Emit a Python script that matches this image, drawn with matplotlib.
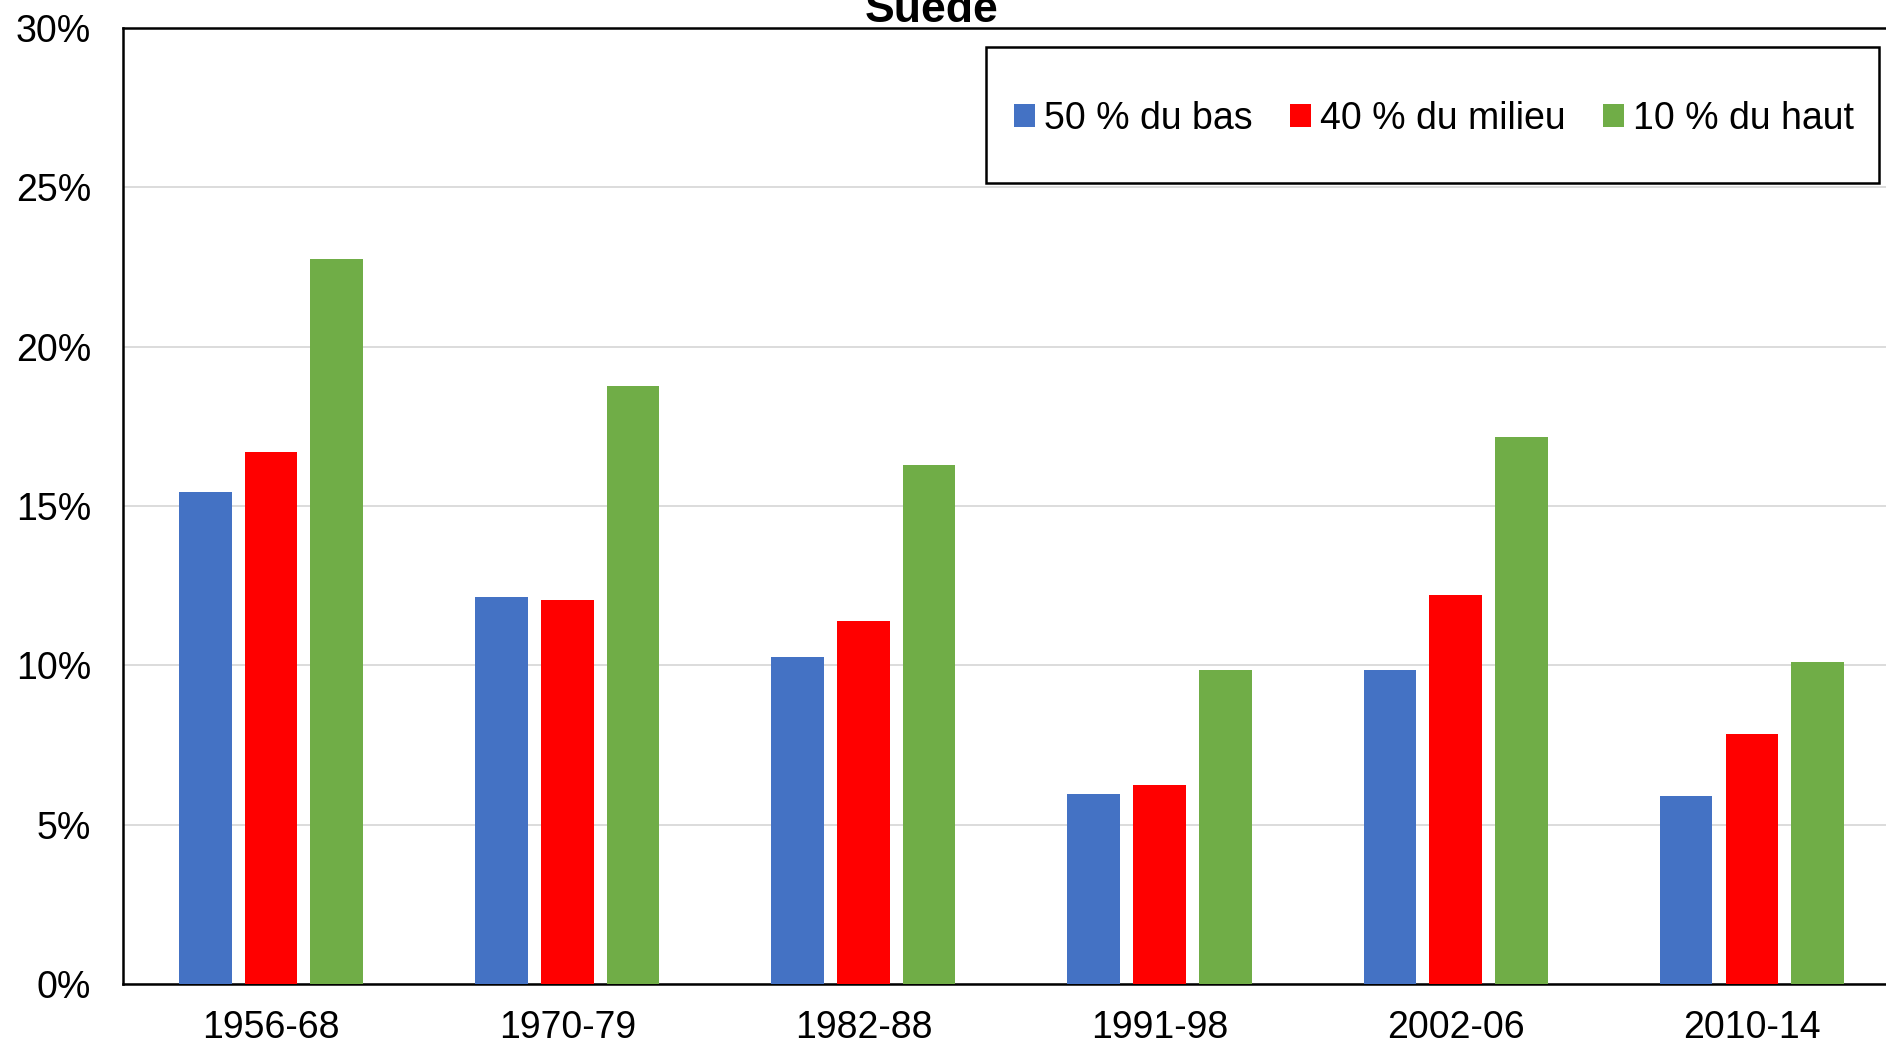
import numpy as np
import matplotlib
matplotlib.use("Agg")
import matplotlib.pyplot as plt
from matplotlib.patches import Rectangle

plt.rcParams['font.family'] = ['Liberation Sans', 'DejaVu Sans']

periodes = ['1956-68', '1970-79', '1982-88', '1991-98', '2002-06', '2010-14']
bas_50 = [15.45, 12.15, 10.25, 5.95, 9.85, 5.9]
milieu_40 = [16.7, 12.05, 11.4, 6.25, 12.2, 7.85]
haut_10 = [22.75, 18.75, 16.3, 9.85, 17.15, 10.1]

series = [('50 % du bas', bas_50, '#4472C4'),
          ('40 % du milieu', milieu_40, '#FF0000'),
          ('10 % du haut', haut_10, '#70AD47')]

fig = plt.figure(figsize=(18.86, 10.44), dpi=100)
ax = fig.add_axes([0.0652, 0.0575, 0.9422, 0.9157])

x = np.arange(len(periodes))
w = 0.178
step = 0.222
for i, (lab, vals, col) in enumerate(series):
    ax.bar(x + (i - 1) * step, np.array(vals) / 100, width=w, color=col,
           label=lab, zorder=3)

ax.set_xlim(-0.5, len(periodes) - 0.5)
ax.set_ylim(0, 0.30)
ax.set_yticks(np.arange(0, 0.301, 0.05))
ax.set_yticklabels(['%d%%' % round(v * 100) for v in np.arange(0, 0.301, 0.05)])
ax.set_xticks(x)
ax.set_xticklabels(periodes)
ax.tick_params(axis='both', length=0, labelsize=27)
ax.tick_params(axis='x', pad=19)
ax.tick_params(axis='y', pad=23)
ax.grid(axis='y', color='#D9D9D9', linewidth=1.3, zorder=0)
for s in ['left', 'bottom', 'top']:
    ax.spines[s].set_linewidth(1.8)
    ax.spines[s].set_color('black')
ax.spines['right'].set_visible(False)

fig.text(0.494, 1 - 22 / 1044, 'Suède', ha='center', va='baseline',
         fontsize=32, fontweight='bold')

leg = fig.legend(loc='center', bbox_to_anchor=(1434 / 1886, 1 - 119 / 1044),
                 ncol=3, frameon=False, fontsize=27, handlelength=0.55,
                 handleheight=0.55, handletextpad=0.25, columnspacing=1.0)
fig.patches.append(Rectangle((986 / 1886, 1 - 183 / 1044), 893 / 1886, 136 / 1044,
                             transform=fig.transFigure, fill=False,
                             edgecolor='black', linewidth=1.8, zorder=5))

fig.savefig('out.png', dpi=100)
